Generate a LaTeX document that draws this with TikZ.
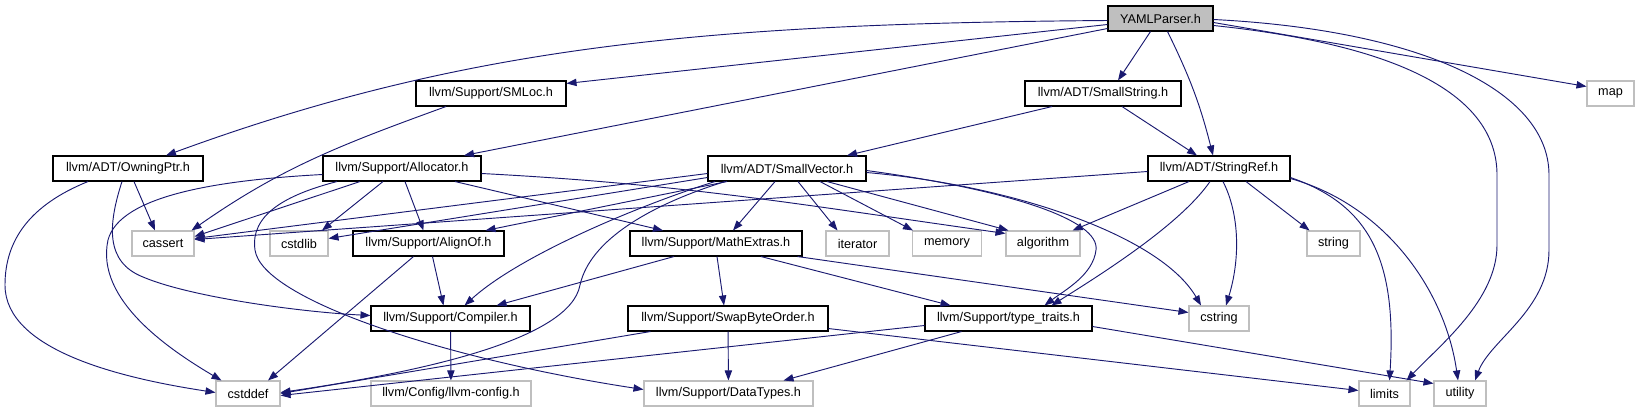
\documentclass[tikz,border=0pt]{standalone}
\usepackage{fontspec}
\setmainfont{Liberation Sans}
\usetikzlibrary{arrows.meta,calc}
\definecolor{edgeblue}{RGB}{25,25,112}
\definecolor{sysgray}{RGB}{191,191,191}

\begin{document}
\begin{tikzpicture}[x=0.75pt,y=-0.75pt,
  hdr/.style={draw=black,line width=0.8pt,fill=white,minimum height=18.75pt,inner sep=0pt,font=\fontsize{9.5}{11}\selectfont},
  sys/.style={hdr,draw=sysgray},
  root/.style={hdr,fill=sysgray},
  boxw/.style={minimum width=#1*0.75pt},
  dep/.style={draw=edgeblue,line width=0.7pt,-{Triangle[length=7.5pt,width=5.5pt]}}]
\useasboundingbox (0,0) rectangle (1640,411);

  \node[root,boxw=105] (yaml) at (1160.5,18.5) {YAMLParser.h};
  \node[sys,boxw=47] (map) at (1610.5,93.5) {map};
  \node[hdr,boxw=150] (smloc) at (491,93.5) {llvm/Support/SMLoc.h};
  \node[hdr,boxw=156] (smallstr) at (1103,93.5) {llvm/ADT/SmallString.h};
  \node[hdr,boxw=150] (owning) at (128,168.5) {llvm/ADT/OwningPtr.h};
  \node[hdr,boxw=158] (alloc) at (402,168.5) {llvm/Support/Allocator.h};
  \node[hdr,boxw=158] (smallvec) at (787,168.5) {llvm/ADT/SmallVector.h};
  \node[hdr,boxw=142] (strref) at (1219,168.5) {llvm/ADT/StringRef.h};
  \node[sys,boxw=62] (cassert) at (163,243.5) {cassert};
  \node[sys,boxw=58] (cstdlib) at (299,243.5) {cstdlib};
  \node[hdr,boxw=151] (alignof) at (428.5,243.5) {llvm/Support/AlignOf.h};
  \node[hdr,boxw=172] (mathext) at (716,243.5) {llvm/Support/MathExtras.h};
  \node[sys,boxw=63] (iterator) at (857.5,243.5) {iterator};
  \node[sys,boxw=69] (memory) at (947,243.5) {memory};
  \node[sys,boxw=74] (algorithm) at (1043,243.5) {algorithm};
  \node[sys,boxw=53] (string) at (1333.5,243.5) {string};
  \node[hdr,boxw=159] (compiler) at (450.5,318.5) {llvm/Support/Compiler.h};
  \node[hdr,boxw=200] (swap) at (728,318.5) {llvm/Support/SwapByteOrder.h};
  \node[hdr,boxw=167] (typetr) at (1008.5,318.5) {llvm/Support/type\_traits.h};
  \node[sys,boxw=60] (cstring) at (1219,318.5) {cstring};
  \node[sys,boxw=64] (cstddef) at (248,393.5) {cstddef};
  \node[sys,boxw=160] (llvmcfg) at (451,393.5) {llvm/Config/llvm-config.h};
  \node[sys,boxw=169] (datatypes) at (728.5,393.5) {llvm/Support/DataTypes.h};
  \node[sys,boxw=51] (limits) at (1384.5,393.5) {limits};
  \node[sys,boxw=52] (utility) at (1460,393.5) {utility};

  \draw[dep] ($(yaml.west)+(0,2)$) .. controls +(-400,3) and +(300,-110) .. ($(owning.north)+(38,0)$);
  \draw[dep] ($(yaml.west)+(0,6)$) -- ($(smloc.north east)+(0,3)$);
  \draw[dep] ($(yaml.west)+(0,10)$) -- ($(alloc.north)+(62,0)$);
  \draw[dep] ($(yaml.south)+(-10,0)$) -- ($(smallstr.north)+(15,0)$);
  \draw[dep] ($(yaml.south)+(7,0)$) to[bend left=6] ($(strref.north)+(-6,0)$);
  \draw[dep] ($(yaml.east)+(0,4)$) -- ($(map.west)+(0,-7)$);
  \draw[dep] ($(yaml.east)+(0,7)$) .. controls (1400,45) and (1497,95) .. (1497,175) -- (1497,245) .. controls (1497,300) and (1440,345) .. ($(limits.north)+(22,0)$);
  \draw[dep] ($(yaml.east)+(0,1)$) .. controls (1420,30) and (1549,90) .. (1549,175) -- (1549,250) .. controls (1549,310) and (1490,340) .. ($(utility.north)+(15,0)$);

  \draw[dep] ($(smloc.south)+(-45,0)$) to[out=200,in=35] ($(cassert.north east)+(-3,0)$);
  \draw[dep] ($(smallstr.south)+(-51,0)$) -- ($(smallvec.north)+(60,0)$);
  \draw[dep] ($(smallstr.south)+(19,0)$) -- ($(strref.north)+(-22,0)$);

  \draw[dep] ($(owning.south)+(6,0)$) -- ($(cassert.north)+(-8,0)$);
  \draw[dep] ($(owning.south)+(-40,0)$) .. controls (30,205) and (5,240) .. (5,285) .. controls (5,350) and (120,378) .. ($(cstddef.west)+(0,-1)$);
  \draw[dep] ($(owning.south)+(-6,0)$) .. controls (108,225) and (105,262) .. (143,277) .. controls (190,297) and (300,312) .. ($(compiler.west)+(0,-3)$);

  \draw[dep] ($(alloc.west)+(0,6)$) .. controls (220,180) and (120,195) .. (108,240) .. controls (95,300) and (170,350) .. ($(cstddef.north west)+(6,0)$);
  \draw[dep] ($(alloc.south)+(-65,0)$) .. controls (285,195) and (250,215) .. (255,250) .. controls (262,300) and (450,360) .. ($(datatypes.west)+(0,-4)$);
  \draw[dep] ($(alloc.south)+(-42,0)$) -- ($(cassert.east)+(0,-7)$);
  \draw[dep] ($(alloc.south)+(-19,0)$) -- ($(cstdlib.north)+(23,0)$);
  \draw[dep] ($(alloc.south)+(3,0)$) -- ($(alignof.north)+(-5,0)$);
  \draw[dep] ($(alloc.south)+(53,0)$) -- ($(mathext.north)+(-53,0)$);
  \draw[dep] ($(alloc.east)+(0,5)$) to[out=-3,in=172] ($(algorithm.north west)+(0,3)$);

  \draw[dep] ($(smallvec.west)+(0,5)$) -- ($(cassert.east)+(0,-5)$);
  \draw[dep] ($(smallvec.west)+(0,9)$) -- ($(cstdlib.east)+(0,-5)$);
  \draw[dep] ($(smallvec.south)+(-60,0)$) -- ($(alignof.north east)+(-19,0)$);
  \draw[dep] ($(smallvec.south)+(-72,0)$) .. controls (640,205) and (520,255) .. ($(compiler.north)+(14,0)$);
  \draw[dep] ($(smallvec.south)+(-62,0)$) .. controls (650,205) and (590,240) .. (580,285) .. controls (570,340) and (420,372) .. ($(cstddef.east)+(0,-1)$);
  \draw[dep] ($(smallvec.south)+(-12,0)$) -- ($(mathext.north)+(17,0)$);
  \draw[dep] ($(smallvec.south)+(11,0)$) -- ($(iterator.north)+(-20,0)$);
  \draw[dep] ($(smallvec.south)+(33,0)$) -- ($(memory.north)+(-34,0)$);
  \draw[dep] ($(smallvec.south)+(40,0)$) -- ($(algorithm.north west)+(3,0)$);
  \draw[dep] ($(smallvec.east)+(0,4)$) .. controls (1010,185) and (1160,235) .. ($(cstring.north)+(-18,0)$);
  \draw[dep] ($(smallvec.east)+(0,2)$) .. controls (1010,190) and (1100,220) .. (1096,250) .. controls (1093,275) and (1065,290) .. ($(typetr.north)+(36,0)$);

  \draw[dep] ($(strref.west)+(0,3)$) -- ($(cassert.east)+(0,-4)$);
  \draw[dep] ($(strref.south)+(-30,0)$) -- ($(algorithm.north east)+(-8,0)$);
  \draw[dep] ($(strref.south)+(-9,0)$) .. controls (1180,225) and (1100,275) .. ($(typetr.north)+(43,0)$);
  \draw[dep] ($(strref.south)+(4,0)$) .. controls (1240,215) and (1240,260) .. ($(cstring.north)+(7,0)$);
  \draw[dep] ($(strref.south)+(27,0)$) -- ($(string.north)+(-24,0)$);
  \draw[dep] ($(strref.south east)+(0,-4)$) .. controls (1370,205) and (1397,260) .. ($(limits.north)+(5,0)$);
  \draw[dep] ($(strref.south east)+(0,-3)$) .. controls (1385,205) and (1445,290) .. ($(utility.north)+(-2,0)$);

  \draw[dep] ($(alignof.south)+(4,0)$) -- ($(compiler.north)+(-7,0)$);
  \draw[dep] ($(alignof.south)+(-15,0)$) -- ($(cstddef.north)+(20,0)$);

  \draw[dep] ($(mathext.south)+(-42,0)$) -- ($(compiler.north east)+(-34,0)$);
  \draw[dep] ($(mathext.south)+(1,0)$) -- ($(swap.north)+(-4,0)$);
  \draw[dep] ($(mathext.south)+(45,0)$) -- ($(typetr.north)+(-58,0)$);
  \draw[dep] ($(mathext.south east)+(-5,0)$) -- ($(cstring.west)+(0,-6)$);

  \draw[dep] (compiler) -- (llvmcfg);

  \draw[dep] ($(swap.south west)+(23,0)$) -- (cstddef.east);
  \draw[dep] (swap) -- (datatypes);
  \draw[dep] ($(swap.south east)+(0,-3)$) -- ($(limits.west)+(0,-3)$);

  \draw[dep] ($(typetr.west)+(0,7)$) -- ($(cstddef.east)+(0,2)$);
  \draw[dep] ($(typetr.south)+(-47,0)$) -- ($(datatypes.north east)+(-30,0)$);
  \draw[dep] ($(typetr.east)+(0,8)$) -- ($(utility.west)+(0,-10)$);
\end{tikzpicture}
\end{document}
